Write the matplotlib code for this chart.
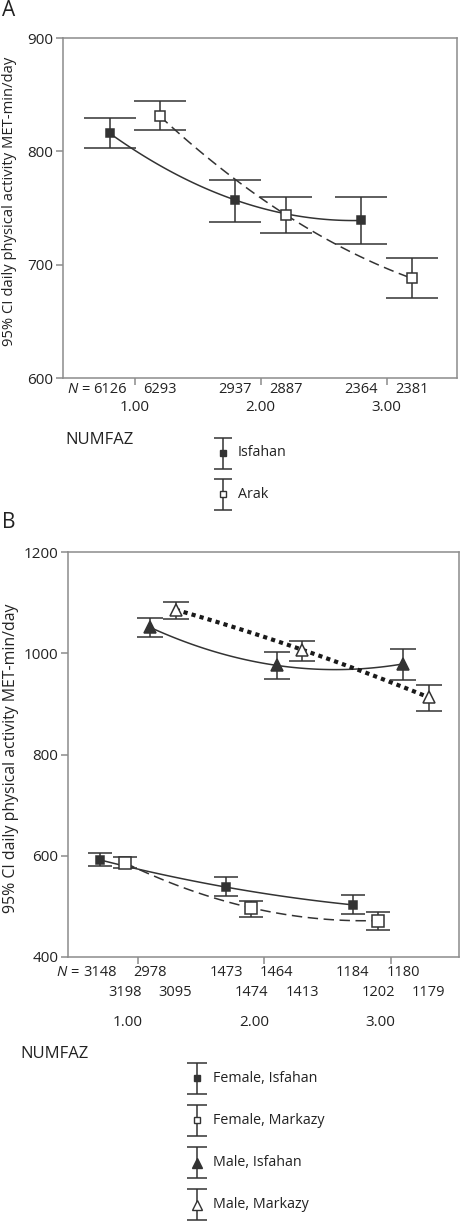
import numpy as np
import matplotlib
matplotlib.use("Agg")
import matplotlib.pyplot as plt

plt.rcParams['font.family'] = ['Open Sans', 'DejaVu Sans']
plt.rcParams['mathtext.fontset'] = 'custom'
plt.rcParams['mathtext.it'] = 'Open Sans:italic'
plt.rcParams['mathtext.rm'] = 'Open Sans'
plt.rcParams['lines.scale_dashes'] = False

phases = np.array([1.0, 2.0, 3.0])
phase_labels = ['1.00', '2.00', '3.00']

# panel A: Isfahan vs Arak
a_isf_mean = [816, 757, 739]
a_isf_lo = [803, 738, 718]
a_isf_hi = [829, 775, 760]
a_isf_n = [6126, 2937, 2364]
a_arak_mean = [831, 744, 688]
a_arak_lo = [819, 728, 671]
a_arak_hi = [844, 760, 706]
a_arak_n = [6293, 2887, 2381]

# panel B: sex x province
b_fi_mean = [592, 538, 503]
b_fi_lo = [580, 520, 484]
b_fi_hi = [605, 558, 522]
b_fi_n = [3148, 1473, 1184]
b_fm_mean = [586, 497, 472]
b_fm_lo = [576, 480, 453]
b_fm_hi = [597, 510, 488]
b_fm_n = [3198, 1474, 1202]
b_mi_mean = [1051, 976, 979]
b_mi_lo = [1033, 950, 948]
b_mi_hi = [1069, 1002, 1009]
b_mi_n = [2978, 1464, 1180]
b_mm_mean = [1086, 1007, 913]
b_mm_lo = [1068, 984, 886]
b_mm_hi = [1101, 1025, 937]
b_mm_n = [3095, 1413, 1179]

INK = '#333333'
TXT = '#222222'
FRAME = '#8c8c8c'
FS_N = 10.5


def series(ax, x, mean, lo, hi, marker, mfc, ms, ls, lw, cap):
    mean = np.asarray(mean, float)
    err = [mean - np.asarray(lo), np.asarray(hi) - mean]
    # smooth fit line through the means
    coef = np.polyfit(x, mean, 2)
    xx = np.linspace(x[0], x[-1], 80)
    if ls == 'dot':
        style = {'dashes': (lw, lw), 'color': '#1a1a1a'}
    elif ls == 'dash':
        style = {'dashes': (7.5, 4), 'color': INK}
    else:
        style = {'ls': '-', 'color': INK}
    ax.plot(xx, np.polyval(coef, xx), lw=lw, dash_capstyle='butt',
            solid_capstyle='butt', zorder=2, **style)
    ax.errorbar(x, mean, yerr=err, fmt='none', ecolor='#333333',
                elinewidth=1.1, capsize=cap, capthick=1.1, zorder=3)
    ax.plot(x, mean, marker=marker, ls='none', mfc=mfc, mec=INK, mew=1.1,
            ms=ms, zorder=4)


def style_axes(ax, ylim, yticks):
    ax.set_ylim(*ylim)
    ax.set_yticks(yticks)
    ax.set_xticks(phases)
    ax.set_xticklabels([])
    for s in ax.spines.values():
        s.set_color(FRAME)
        s.set_linewidth(1.1)
    ax.tick_params(direction='out', length=5, width=1.1, color=FRAME,
                   labelsize=11, labelcolor=TXT, pad=2)


def under(ax, x, text, dx, dy, fs=FS_N, ha='center'):
    ax.annotate(text, xy=(x, 0), xycoords=('data', 'axes fraction'),
                xytext=(dx, -dy), textcoords='offset points',
                ha=ha, va='center', fontsize=fs, color=TXT)


fig = plt.figure(figsize=(4.61, 12.21), dpi=100)

# ---------------- panel A ----------------
axA = fig.add_axes([63 / 461, 1 - 378 / 1221, 394 / 461, 340 / 1221])
series(axA, phases - 0.2, a_isf_mean, a_isf_lo, a_isf_hi, 's', INK, 5.2, 'solid', 1.1, 18.5)
series(axA, phases + 0.2, a_arak_mean, a_arak_lo, a_arak_hi, 's', 'white', 7, 'dash', 1.1, 18.5)
axA.set_xlim(0.43, 3.56)
style_axes(axA, (600, 900), [600, 700, 800, 900])
axA.set_ylabel('95% CI daily physical activity MET-min/day', fontsize=10.6, color=TXT)
axA.yaxis.label.set_va('center')
axA.yaxis.set_label_coords(-(63 - 10) / 394, 0.52)
for i, x in enumerate(phases):
    under(axA, x - 0.2, str(a_isf_n[i]), 0, 8.6)
    under(axA, x + 0.2, str(a_arak_n[i]), 0, 8.6)
    under(axA, x, phase_labels[i], 0, 21, fs=11)
under(axA, phases[0] - 0.2, r'$N$ =', -14, 8.6, ha='right')

# ---------------- panel B ----------------
axB = fig.add_axes([68 / 461, 1 - 957 / 1221, 391 / 461, 405 / 1221])
series(axB, phases - 0.3, b_fi_mean, b_fi_lo, b_fi_hi, 's', INK, 6.2, 'solid', 1.1, 8.6)
series(axB, phases - 0.1, b_fm_mean, b_fm_lo, b_fm_hi, 's', 'white', 8.2, 'dash', 1.1, 8.6)
series(axB, phases + 0.1, b_mi_mean, b_mi_lo, b_mi_hi, '^', INK, 8, 'solid', 1.1, 9.5)
series(axB, phases + 0.3, b_mm_mean, b_mm_lo, b_mm_hi, '^', 'white', 8.5, 'dot', 3.0, 9.5)
axB.set_xlim(0.45, 3.54)
style_axes(axB, (400, 1200), [400, 600, 800, 1000, 1200])
axB.set_ylabel('95% CI daily physical activity MET-min/day', fontsize=11.4, color=TXT)
axB.yaxis.label.set_va('center')
axB.yaxis.set_label_coords(-(68 - 11) / 391, 0.49)
for i, x in enumerate(phases):
    under(axB, x - 0.3, str(b_fi_n[i]), 0, 11.5)
    under(axB, x + 0.1, str(b_mi_n[i]), 0, 11.5)
    under(axB, x - 0.1, str(b_fm_n[i]), 0, 25.2)
    under(axB, x + 0.3, str(b_mm_n[i]), 0, 25.2)
    under(axB, x, phase_labels[i], -7.2, 46.8, fs=11)
under(axB, phases[0] - 0.3, r'$N$ =', -14.5, 11.5, ha='right')

# ---------------- legends and panel letters (pixel overlay) ----------------
ov = fig.add_axes([0, 0, 1, 1])
ov.set_xlim(0, 461)
ov.set_ylim(1221, 0)
ov.axis('off')

ov.text(2, 10, 'A', fontsize=15, ha='left', va='center', color=TXT)
ov.text(2, 522, 'B', fontsize=15, ha='left', va='center', color=TXT)

legA = [('Isfahan', 's', INK, 3.8), ('Arak', 's', 'white', 4.0)]
ov.text(65, 440, 'NUMFAZ', fontsize=12, ha='left', va='center', color=TXT)
for i, (lab, mk, fc, ms) in enumerate(legA):
    yc = 453 + i * 41
    ov.errorbar([223], [yc], yerr=[15.5], fmt='none', ecolor='#333333',
                elinewidth=1.1, capsize=6.8, capthick=1.1)
    ov.plot([223], [yc], marker=mk, mfc=fc, mec=INK, mew=1.0, ms=ms, ls='none')
    ov.text(238, yc, lab, fontsize=10.3, ha='left', va='center', color=TXT)

legB = [('Female, Isfahan', 's', INK, 4.2), ('Female, Markazy', 's', 'white', 4.2),
        ('Male, Isfahan', '^', INK, 7.5), ('Male, Markazy', '^', 'white', 7.8)]
ov.text(20, 1054, 'NUMFAZ', fontsize=12, ha='left', va='center', color=TXT)
for i, (lab, mk, fc, ms) in enumerate(legB):
    yc = 1078 + i * 42.3
    ov.errorbar([197], [yc], yerr=[15.5], fmt='none', ecolor='#333333',
                elinewidth=1.1, capsize=7.2, capthick=1.1)
    ov.plot([197], [yc], marker=mk, mfc=fc, mec=INK, mew=1.0, ms=ms, ls='none')
    ov.text(213, yc, lab, fontsize=10.3, ha='left', va='center', color=TXT)

fig.savefig('out.png', dpi=100)
